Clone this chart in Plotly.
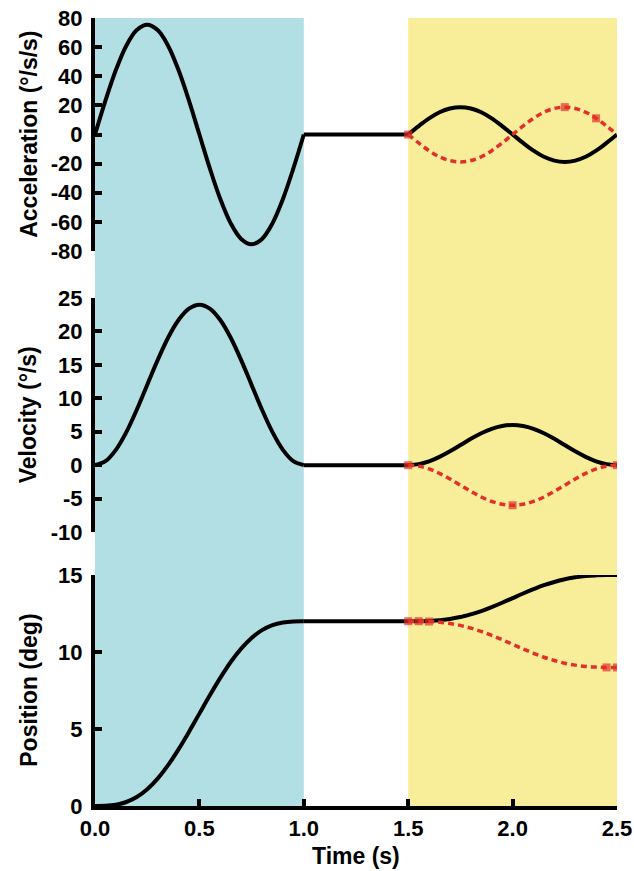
import plotly.graph_objects as go

# Time samples (s) for the two movement phases
T1 = [0.00, 0.05, 0.10, 0.15, 0.20, 0.25, 0.30, 0.35, 0.40, 0.45, 0.50,
      0.55, 0.60, 0.65, 0.70, 0.75, 0.80, 0.85, 0.90, 0.95, 1.00]
T2 = [1.50, 1.55, 1.60, 1.65, 1.70, 1.75, 1.80, 1.85, 1.90, 1.95, 2.00,
      2.05, 2.10, 2.15, 2.20, 2.25, 2.30, 2.35, 2.40, 2.45, 2.50]

# Phase 1: large movement
ACC1 = [0, 23.3, 44.3, 61.0, 71.7, 75.4, 71.7, 61.0, 44.3, 23.3, 0,
        -23.3, -44.3, -61.0, -71.7, -75.4, -71.7, -61.0, -44.3, -23.3, 0]
VEL1 = [0, 0.59, 2.29, 4.94, 8.29, 12.0, 15.71, 19.06, 21.71, 23.41, 24.0,
        23.41, 21.71, 19.06, 15.71, 12.0, 8.29, 4.94, 2.29, 0.59, 0]
POS1 = [0, 0.01, 0.08, 0.26, 0.58, 1.09, 1.78, 2.65, 3.68, 4.81, 6.0,
        7.19, 8.32, 9.35, 10.22, 10.91, 11.42, 11.75, 11.92, 11.99, 12.0]

# Phase 2: small movement, forward (black) and backward (red)
ACC2_FWD = [0, 5.8, 11.1, 15.3, 17.9, 18.8, 17.9, 15.3, 11.1, 5.8, 0,
            -5.8, -11.1, -15.3, -17.9, -18.8, -17.9, -15.3, -11.1, -5.8, 0]
ACC2_BWD = [0, -5.8, -11.1, -15.3, -17.9, -18.8, -17.9, -15.3, -11.1, -5.8, 0,
            5.8, 11.1, 15.3, 17.9, 18.8, 17.9, 15.3, 11.1, 5.8, 0]
VEL2_FWD = [0, 0.15, 0.57, 1.24, 2.07, 3.0, 3.93, 4.76, 5.43, 5.85, 6.0,
            5.85, 5.43, 4.76, 3.93, 3.0, 2.07, 1.24, 0.57, 0.15, 0]
VEL2_BWD = [0, -0.15, -0.57, -1.24, -2.07, -3.0, -3.93, -4.76, -5.43, -5.85, -6.0,
            -5.85, -5.43, -4.76, -3.93, -3.0, -2.07, -1.24, -0.57, -0.15, 0]
POS2_FWD = [12.0, 12.0, 12.02, 12.06, 12.15, 12.27, 12.45, 12.66, 12.92, 13.2, 13.5,
            13.8, 14.08, 14.34, 14.55, 14.73, 14.85, 14.94, 14.98, 15.0, 15.0]
POS2_BWD = [12.0, 12.0, 11.98, 11.94, 11.85, 11.73, 11.55, 11.34, 11.08, 10.8, 10.5,
            10.2, 9.92, 9.66, 9.45, 9.27, 9.15, 9.06, 9.02, 9.0, 9.0]

# Sample indices on the backward curves that carry square markers
ACC_MARK_IDX = [0, 15, 18]
VEL_MARK_IDX = [0, 10, 20]
POS_MARK_IDX = [0, 1, 2, 19, 20]

# Shaded epochs (s)
EPOCHS = [(0.0, 1.0, "#b1dfe3"), (1.5, 2.5, "#f8ee99")]

# Axis ticks
X_TICKS = [0.0, 0.5, 1.0, 1.5, 2.0, 2.5]
ACC_TICKS = [-80, -60, -40, -20, 0, 20, 40, 60, 80]
VEL_TICKS = [-10, -5, 0, 5, 10, 15, 20, 25]
POS_TICKS = [0, 5, 10, 15]

FONT = "Liberation Sans"
BLACK_W = 4
RED = "#e2312a"

fig = go.Figure()

panels = [
    ("y", ACC1, ACC2_FWD, ACC2_BWD, ACC_MARK_IDX),
    ("y2", VEL1, VEL2_FWD, VEL2_BWD, VEL_MARK_IDX),
    ("y3", POS1, POS2_FWD, POS2_BWD, POS_MARK_IDX),
]

black_traces, red_traces = [], []
for yref, ph1, fwd, bwd, marks in panels:
    # first phase
    black_traces.append(go.Scatter(
        x=T1, y=ph1, xaxis="x", yaxis=yref, mode="lines",
        line=dict(color="black", width=BLACK_W, shape="spline"),
        showlegend=False, hoverinfo="skip"))
    # hold between phases
    black_traces.append(go.Scatter(
        x=[T1[-1], T2[0]], y=[ph1[-1], fwd[0]], xaxis="x", yaxis=yref,
        mode="lines", line=dict(color="black", width=BLACK_W),
        showlegend=False, hoverinfo="skip"))
    # second phase, forward
    black_traces.append(go.Scatter(
        x=T2, y=fwd, xaxis="x", yaxis=yref, mode="lines",
        line=dict(color="black", width=BLACK_W, shape="spline"),
        showlegend=False, hoverinfo="skip"))
    # second phase, backward (red dashed, drawn on top)
    sizes = [8 if i in marks else 0 for i in range(len(T2))]
    red_traces.append(go.Scatter(
        x=T2, y=bwd, xaxis="x", yaxis=yref, mode="lines+markers",
        line=dict(color=RED, width=3.5, dash="6px,4px", shape="spline"),
        marker=dict(symbol="square", size=sizes, color=RED, line=dict(width=0)),
        showlegend=False, hoverinfo="skip"))

for tr in black_traces + red_traces:
    fig.add_trace(tr)

for x0, x1, col in EPOCHS:
    fig.add_shape(type="rect", xref="x", yref="paper", x0=x0, x1=x1, y0=0, y1=1,
                  fillcolor=col, line=dict(width=0), layer="below")

tickfont = dict(family=FONT, size=22, color="black", weight="bold")
common_y = dict(showgrid=False, zeroline=False, showline=True, linecolor="black",
                linewidth=4, ticks="inside", ticklen=7, tickwidth=4,
                tickcolor="black", tickfont=tickfont, anchor="x",
                automargin=False, ticklabelstandoff=4)


def labels(vals, fmt="{:d}"):
    return [fmt.format(v) for v in vals]


fig.update_layout(
    width=634, height=871,
    margin=dict(l=95, r=17, t=18, b=65),
    plot_bgcolor="rgba(0,0,0,0)", paper_bgcolor="white",
    xaxis=dict(range=[0, 2.5], anchor="y3", showgrid=False, zeroline=False,
               showline=True, linecolor="black", linewidth=4, ticks="inside",
               ticklen=7, tickwidth=4, tickcolor="black", tickfont=tickfont,
               automargin=False,
               tickvals=X_TICKS, ticktext=labels(X_TICKS, "{:.1f}")),
    yaxis=dict(domain=[0.7043, 1.0], range=[-80, 80], tickvals=ACC_TICKS,
               ticktext=labels(ACC_TICKS), **common_y),
    yaxis2=dict(domain=[0.3477, 0.6447], range=[-10, 25], tickvals=VEL_TICKS,
                ticktext=labels(VEL_TICKS), **common_y),
    yaxis3=dict(domain=[0.0, 0.2931], range=[0, 15], tickvals=POS_TICKS,
                ticktext=labels(POS_TICKS), **common_y),
)

titlefont = dict(family=FONT, size=23, color="black", weight="bold")
for text, yc in [("Acceleration (°/s/s)", 0.852), ("Velocity (°/s)", 0.496),
                 ("Position (deg)", 0.1465)]:
    fig.add_annotation(text=text, xref="paper", yref="paper", x=-0.128, y=yc,
                       textangle=-90, showarrow=False, font=titlefont,
                       xanchor="center", yanchor="middle")
fig.add_annotation(text="Time (s)", xref="paper", yref="paper", x=0.5, y=-0.064,
                   showarrow=False, font=titlefont, xanchor="center",
                   yanchor="middle")

fig.write_html("out.html")
